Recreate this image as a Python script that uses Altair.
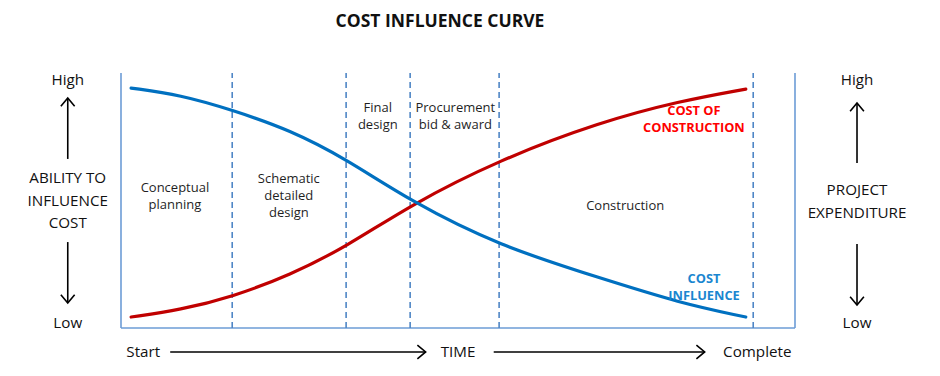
import altair as alt
import pandas as pd

# ---- data (time and level as % of the chart's span) ----
time_pct = [1.5, 8.8, 16.5, 25.1, 33.4, 42.9, 56.1, 71.1, 82.9, 92.7]
cost_of_construction = [4.3, 7.1, 12.2, 20.8, 31.8, 48.2, 65.9, 80.8, 89.0, 93.7]
cost_influence = [94.1, 91.4, 85.5, 77.6, 66.3, 49.8, 32.2, 19.6, 9.8, 4.3]

phase_bounds = [16.5, 33.4, 42.9, 56.1, 93.8]
phase_labels = ["Conceptual\nplanning", "Schematic\ndetailed\ndesign", "Final\ndesign",
                "Procurement\nbid & award", "Construction"]
phase_label_t = [8.0, 24.9, 38.1, 49.6, 74.8]
phase_label_v = [54.9, 58.4, 86.3, 86.3, 47.8]

FONT = "Open Sans"
xs = alt.Scale(domain=[0, 100], nice=False, zero=False)
ys = alt.Scale(domain=[0, 100], nice=False, zero=False)

curves = pd.DataFrame({
    "t": time_pct * 2,
    "v": cost_of_construction + cost_influence,
    "series": ["Cost of construction"] * len(time_pct) + ["Cost influence"] * len(time_pct),
})

frame = pd.DataFrame({"x": [0, 100, 0], "x2": [0, 100, 100], "y": [0, 0, 0], "y2": [100, 100, 0]})
bounds = pd.DataFrame({"x": phase_bounds, "x2": phase_bounds,
                       "y": [0] * len(phase_bounds), "y2": [100] * len(phase_bounds)})
phases = pd.DataFrame({"t": phase_label_t, "v": phase_label_v, "label": phase_labels})


def X(f):
    return alt.X(f, type="quantitative", scale=xs, axis=None)


def Y(f):
    return alt.Y(f, type="quantitative", scale=ys, axis=None)


frame_l = alt.Chart(frame).mark_rule(color="#6C9CD6", strokeWidth=1.6).encode(
    x=X("x"), x2="x2", y=Y("y"), y2="y2")

bound_l = alt.Chart(bounds).mark_rule(color="#4F86C6", strokeWidth=1.6, strokeDash=[6, 4]).encode(
    x=X("x"), x2="x2", y=Y("y"), y2="y2")

curve_l = alt.Chart(curves).mark_line(strokeWidth=3.2, interpolate="basis", strokeCap="round").encode(
    x=X("t"), y=Y("v"),
    color=alt.Color("series:N", scale=alt.Scale(domain=["Cost of construction", "Cost influence"],
                                                 range=["#C00000", "#0070C0"]), legend=None))

phase_l = alt.Chart(phases).mark_text(font=FONT, fontSize=13, lineBreak="\n", lineHeight=17,
                                      color="#1f1f1f", align="center", baseline="middle").encode(
    x=X("t"), y=Y("v"), text="label:N")

red_lab = alt.Chart(pd.DataFrame({"t": [85.0], "v": [85.0], "label": ["COST OF\nCONSTRUCTION"]})).mark_text(
    font=FONT, fontSize=12.8, fontWeight="bold", lineBreak="\n", lineHeight=16.8, color="#FF0000",
    align="center", baseline="middle").encode(x=X("t"), y=Y("v"), text="label:N")

blue_lab = alt.Chart(pd.DataFrame({"t": [86.5], "v": [19.2], "label": ["COST\nINFLUENCE"]})).mark_text(
    font=FONT, fontSize=12.8, fontWeight="bold", lineBreak="\n", lineHeight=17, color="#1A86D0",
    align="center", baseline="middle").encode(x=X("t"), y=Y("v"), text="label:N")

side = pd.DataFrame({
    "t": [-7.9, -7.9, -7.9, 109.2, 109.2, 109.2, 3.3, 50.0, 94.4],
    "v": [97.3, 2.0, 58.8, 97.3, 2.0, 54.1, -9.4, -9.4, -9.4],
    "label": ["High", "Low", "ABILITY TO\nINFLUENCE\nCOST", "High", "Low", "PROJECT\nEXPENDITURE",
              "Start", "TIME", "Complete"],
})
side_l = alt.Chart(side).mark_text(font=FONT, fontSize=15.2, lineBreak="\n", lineHeight=22.5,
                                   color="#111111", align="center", baseline="middle").encode(
    x=X("t"), y=Y("v"), text="label:N")

shafts = pd.DataFrame({
    "x": [-7.9, -7.9, 109.2, 109.2, 7.3, 55.3],
    "x2": [-7.9, -7.9, 109.2, 109.2, 45.2, 86.6],
    "y": [90.2, 33.7, 88.2, 32.9, -9.4, -9.4],
    "y2": [66.3, 9.8, 64.7, 9.0, -9.4, -9.4],
})
shaft_l = alt.Chart(shafts).mark_rule(color="#000000", strokeWidth=1.6).encode(
    x=X("x"), x2="x2", y=Y("y"), y2="y2")

heads = pd.DataFrame({
    "x": [-7.9, -7.9, 109.2, 109.2, 45.2, 86.6],
    "y": [90.2, 9.8, 88.2, 9.0, -9.4, -9.4],
    "angle": [0, 180, 0, 180, 90, 90],
})
head_l = alt.Chart(heads).mark_point(shape="M-1,1.2L0,0L1,1.2", size=190, filled=False,
                                     color="#000000", strokeWidth=1.6, opacity=1).encode(
    x=X("x"), y=Y("y"), angle=alt.Angle("angle:Q", scale=None))

chart = alt.layer(frame_l, bound_l, curve_l, phase_l, red_lab, blue_lab, side_l, shaft_l, head_l).properties(
    width=674, height=255,
    padding={"left": 121, "top": 73, "right": 145, "bottom": 48},
    autosize="none",
    background="white",
    title=alt.TitleParams("COST INFLUENCE CURVE", font=FONT, fontSize=17.5, fontWeight="bold",
                          color="#111111", anchor="middle", offset=42, dx=-18),
).configure_view(stroke=None)

chart.save("out.html", embed_options={"renderer": "svg", "actions": False})
